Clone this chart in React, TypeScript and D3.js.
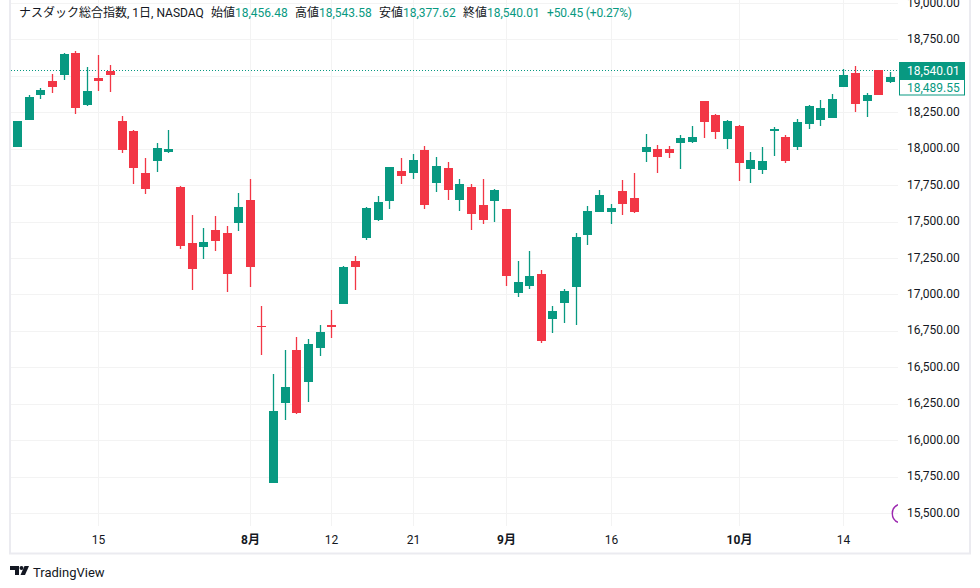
import React, { useEffect, useRef } from 'react';
import * as d3 from 'd3';

// 日足 OHLC (読み取り値)
const opens = [18012, 18197, 18369, 18465, 18506, 18657, 18300, 18485, 18533, 18190, 18122, 17833, 17916, 17978, 17737, 17353, 17326, 17442, 17422, 17490, 17648, 16783, 15706, 16255, 16619, 16399, 16632, 16790, 16934, 17230, 17387, 17511, 17641, 17847, 17833, 17991, 17765, 17868, 17648, 17737, 17614, 17641, 17586, 17010, 17058, 17140, 16832, 16941, 17051, 17408, 17566, 17566, 17710, 17662, 17978, 17998, 17998, 18039, 18046, 18328, 18231, 18067, 18156, 17861, 17854, 18122, 18080, 18012, 18170, 18197, 18211, 18424, 18520, 18328, 18540, 18458];
const highs = [18190, 18369, 18417, 18513, 18657, 18671, 18561, 18643, 18575, 18225, 18129, 17936, 18039, 18129, 17744, 17545, 17456, 17538, 17470, 17696, 17792, 16921, 16454, 16619, 16708, 16694, 16790, 16893, 17195, 17264, 17600, 17676, 17875, 17936, 17964, 18019, 17943, 17909, 17792, 17758, 17792, 17724, 17586, 17230, 17298, 17168, 16921, 17037, 17422, 17607, 17717, 17621, 17785, 17833, 18101, 18026, 18019, 18094, 18156, 18328, 18238, 18197, 18163, 17978, 18012, 18149, 18094, 18204, 18300, 18334, 18376, 18547, 18568, 18382, 18540, 18527];
const lows = [18012, 18197, 18341, 18382, 18472, 18238, 18293, 18396, 18389, 17971, 17758, 17689, 17840, 17971, 17312, 17031, 17243, 17298, 17017, 17435, 17051, 16584, 15706, 16138, 16180, 16262, 16578, 16701, 16934, 17031, 17374, 17504, 17586, 17758, 17792, 17586, 17703, 17648, 17573, 17442, 17483, 17497, 17058, 16983, 17037, 16667, 16735, 16804, 16790, 17339, 17566, 17483, 17545, 17559, 17909, 17833, 17936, 17861, 18039, 18074, 18067, 17998, 17778, 17765, 17827, 17950, 17902, 17991, 18135, 18156, 18211, 18424, 18252, 18218, 18369, 18451];
const closes = [18190, 18355, 18403, 18424, 18650, 18280, 18396, 18465, 18506, 17991, 17868, 17724, 18005, 17998, 17332, 17175, 17360, 17367, 17140, 17600, 17188, 16777, 16200, 16365, 16186, 16660, 16742, 16777, 17188, 17188, 17593, 17634, 17875, 17813, 17923, 17614, 17881, 17717, 17758, 17552, 17511, 17717, 17126, 17085, 17126, 16680, 16886, 17024, 17394, 17573, 17682, 17593, 17621, 17566, 18012, 17943, 17971, 18074, 18080, 18183, 18115, 18190, 17902, 17923, 17916, 18135, 17916, 18183, 18293, 18280, 18341, 18506, 18307, 18369, 18369, 18492];
// 陽線/陰線 (始値=終値に近い足もあるので明示)
const isUp = [1, 1, 1, 0, 1, 0, 1, 0, 0, 0, 0, 0, 1, 1, 0, 0, 1, 0, 0, 1, 0, 0, 1, 1, 0, 1, 1, 0, 1, 0, 1, 1, 1, 0, 1, 0, 1, 0, 1, 0, 0, 1, 0, 1, 1, 0, 1, 1, 1, 1, 1, 1, 0, 0, 1, 0, 0, 1, 1, 0, 0, 1, 0, 1, 1, 1, 0, 1, 1, 1, 1, 1, 0, 1, 0, 1];

const priceTicks = [19000, 18750, 18250, 18000, 17750, 17500, 17250, 17000, 16750, 16500, 16250, 16000, 15750, 15500];
const gridPrices = [19000, 18750, 18500, 18250, 18000, 17750, 17500, 17250, 17000, 16750, 16500, 16250, 16000, 15750, 15500];
const timeTickIndex = [7, 20, 27, 34, 42, 51, 62, 71];
const timeTickLabels = ['15', '8月', '12', '21', '9月', '16', '10月', '14'];
const boldTicks = ['8月', '9月', '10月'];

const lastClose = 18540.01;
const lastPrice2 = 18489.55;

const UP = '#089981';
const DOWN = '#f23645';
const FONT = 'Roboto, "Noto Sans CJK JP", sans-serif';

const headerParts: [string, string][] = [
  ['始値', '18,456.48'],
  ['高値', '18,543.58'],
  ['安値', '18,377.62'],
  ['終値', '18,540.01'],
];

const App = () => {
  const ref = useRef<SVGSVGElement>(null);

  useEffect(() => {
    const svg = d3.select(ref.current);
    svg.selectAll('*').remove();

    const x = d3.scaleLinear().domain([0, 75]).range([17.5, 890.5]);
    const y = d3.scaleLinear().domain([19000, 15500]).range([3, 513]);
    const py = (v: number) => Math.round(y(v));
    const px = (i: number) => Math.floor(x(i));

    // 枠
    svg.append('rect').attr('x', 10).attr('y', -2).attr('width', 960).attr('height', 555.5)
      .attr('fill', '#fff').attr('stroke', '#ebebf0').attr('stroke-width', 2);

    // グリッド
    svg.append('g').selectAll('line').data(gridPrices).join('line')
      .attr('x1', 11).attr('x2', 898)
      .attr('y1', d => py(d) + 0.5).attr('y2', d => py(d) + 0.5)
      .attr('stroke', '#f3f3f3');
    svg.append('g').selectAll('line').data(timeTickIndex).join('line')
      .attr('x1', d => px(d) + 0.5).attr('x2', d => px(d) + 0.5)
      .attr('y1', 0).attr('y2', 526)
      .attr('stroke', '#f3f3f3');

    // 現在値ライン
    svg.append('line')
      .attr('x1', 11).attr('x2', 898)
      .attr('y1', py(lastClose) + 0.5).attr('y2', py(lastClose) + 0.5)
      .attr('stroke', UP).attr('stroke-dasharray', '1 2');

    // ローソク足
    const candles = svg.append('g');
    const idx = d3.range(opens.length);
    candles.selectAll('rect.wick').data(idx).join('rect')
      .attr('class', 'wick')
      .attr('x', i => px(i) - 0.15)
      .attr('width', 1.3)
      .attr('y', i => py(highs[i]))
      .attr('height', i => py(lows[i]) - py(highs[i]))
      .attr('fill', i => (isUp[i] ? UP : DOWN));
    candles.selectAll('rect.body').data(idx).join('rect')
      .attr('class', 'body')
      .attr('x', i => px(i) - 4)
      .attr('width', 9)
      .attr('y', i => py(Math.max(opens[i], closes[i])))
      .attr('height', i => Math.max(1, py(Math.min(opens[i], closes[i])) - py(Math.max(opens[i], closes[i]))))
      .attr('fill', i => (isUp[i] ? UP : DOWN));

    // 右端のイベントマーカー (途中で切れる円)
    const arc = d3.arc()({ innerRadius: 9, outerRadius: 10.4, startAngle: -Math.PI * 0.9, endAngle: -Math.PI * 0.1 } as any);
    svg.append('clipPath').attr('id', 'pane').append('rect').attr('x', 11).attr('y', 0).attr('width', 887).attr('height', 553);
    svg.append('g').attr('clip-path', 'url(#pane)').append('path')
      .attr('d', arc)
      .attr('transform', `translate(902,${py(15500) + 0.5})`)
      .attr('fill', '#9c27b0');

    // 価格軸ラベル
    const fmt = d3.format(',.2f');
    svg.append('g').selectAll('text').data(priceTicks).join('text')
      .attr('x', 907).attr('y', d => y(d) + 3.5)
      .attr('font-size', 12).attr('font-family', FONT).attr('fill', '#131722')
      .text(d => fmt(d));

    svg.append('rect').attr('x', 899).attr('y', 62).attr('width', 66).attr('height', 17.5).attr('fill', UP);
    svg.append('text').attr('x', 907).attr('y', 74.5)
      .attr('font-size', 12).attr('font-family', FONT).attr('fill', '#fff').text(fmt(lastClose));
    svg.append('rect').attr('x', 899.5).attr('y', 79.5).attr('width', 65).attr('height', 15.5)
      .attr('fill', '#fff').attr('stroke', UP);
    svg.append('text').attr('x', 907).attr('y', 91.5)
      .attr('font-size', 12).attr('font-family', FONT).attr('fill', UP).text(fmt(lastPrice2));

    // 時間軸ラベル
    svg.append('g').selectAll('text').data(timeTickIndex).join('text')
      .attr('x', d => px(d) + 0.5).attr('y', 544)
      .attr('text-anchor', 'middle')
      .attr('font-size', 12).attr('font-family', FONT).attr('fill', '#131722')
      .attr('font-weight', (_, i) => (boldTicks.includes(timeTickLabels[i]) ? 700 : 400))
      .text((_, i) => timeTickLabels[i]);

    // ヘッダー
    const header = svg.append('g').attr('font-family', FONT).attr('font-size', 12);
    header.append('text').attr('x', 19).attr('y', 17).attr('fill', '#131722').text('ナスダック総合指数, 1日, NASDAQ');
    const labelX = [211, 295, 379, 463];
    headerParts.forEach(([name, val], i) => {
      header.append('text').attr('x', labelX[i]).attr('y', 17).attr('fill', '#131722').text(name);
      header.append('text').attr('x', labelX[i] + 24).attr('y', 17).attr('fill', UP).text(val);
    });
    header.append('text').attr('x', 547).attr('y', 17).attr('fill', UP).attr('textLength', 85).text('+50.45 (+0.27%)');

    // ロゴ
    const logo = svg.append('g').attr('fill', '#131722');
    logo.append('path').attr('d', 'M10 566h9v9h-4v-5h-5z');
    logo.append('circle').attr('cx', 21.5).attr('cy', 568).attr('r', 2);
    logo.append('path').attr('d', 'M24.5 566h4.5l-4 9h-4.5z');
    svg.append('text').attr('x', 33).attr('y', 576.5)
      .attr('font-size', 13).attr('font-family', FONT).attr('fill', '#131722').text('TradingView');
  }, []);

  return (
    <svg
      ref={ref}
      width={980}
      height={588}
      style={{ position: 'absolute', left: 0, top: 0 }}
    />
  );
};

export default App;
